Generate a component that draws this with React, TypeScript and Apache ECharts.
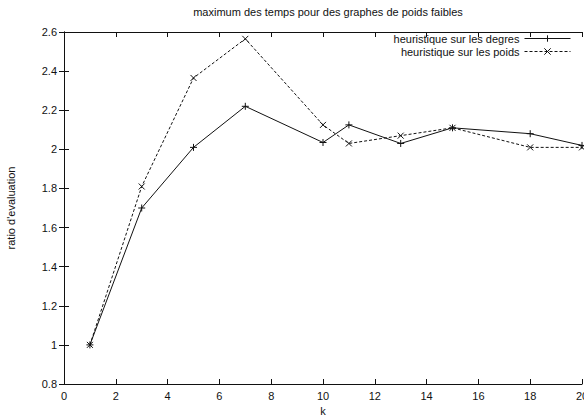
import React, { useEffect, useRef } from "react";
import * as echarts from "echarts";

const kValues = [1, 3, 5, 7, 10, 11, 13, 15, 18, 20];
const degres = [1.0, 1.7, 2.01, 2.22, 2.035, 2.125, 2.03, 2.11, 2.08, 2.02];
const poids = [1.0, 1.81, 2.365, 2.565, 2.125, 2.03, 2.07, 2.11, 2.01, 2.01];
const seriesNames = ["heuristique sur les degres", "heuristique sur les poids"];
const titleText = "maximum des temps pour des graphes de poids faibles";
const xName = "k";
const yName = "ratio d'evaluation";

const FONT = "'Liberation Sans', Arial, sans-serif";
const PLUS = "path://M0,5L10,5M5,0L5,10";
const CROSS = "path://M0,0L10,10M10,0L0,10";

export default function App() {
  const ref = useRef<HTMLDivElement>(null);
  useEffect(() => {
    if (!ref.current) return;
    const chart = echarts.init(ref.current, undefined, { renderer: "svg" });
    const axisLine = { show: true, lineStyle: { color: "#111", width: 1 } };
    const tick = { show: true, inside: true, length: 5, lineStyle: { color: "#111", width: 1 } };
    chart.setOption({
      animation: false,
      backgroundColor: "#fff",
      title: {
        text: titleText,
        left: 323,
        textAlign: "center",
        top: 1,
        textStyle: { fontFamily: FONT, fontSize: 11, fontWeight: "normal", color: "#111" },
      },
      legend: {
        orient: "vertical",
        right: 8,
        top: 28,
        align: "right",
        itemWidth: 46,
        itemHeight: 8,
        itemGap: 2,
        lineStyle: { width: 1 },
        itemStyle: { borderWidth: 1 },
        textStyle: { fontFamily: FONT, fontSize: 11, color: "#111", padding: [0, 0, 0, 0] },
        data: seriesNames,
      },
      grid: { left: 64, right: 2, top: 32, bottom: 33, containLabel: false, outerBoundsMode: "none" },
      xAxis: [
        {
          type: "value",
          min: 0,
          max: 20,
          interval: 2,
          name: xName,
          nameLocation: "middle",
          nameGap: 21,
          nameTextStyle: { fontFamily: FONT, fontSize: 11, color: "#111" },
          axisLine,
          axisTick: tick,
          axisLabel: { fontFamily: FONT, fontSize: 11, color: "#111", margin: 6 },
          splitLine: { show: false },
        },
        {
          type: "value",
          position: "top",
          min: 0,
          max: 20,
          interval: 2,
          axisLine,
          axisTick: tick,
          axisLabel: { show: false },
          splitLine: { show: false },
        },
      ],
      yAxis: [
        {
          type: "value",
          min: 0.8,
          max: 2.6,
          interval: 0.2,
          name: yName,
          nameLocation: "middle",
          nameRotate: 90,
          nameGap: 48,
          nameTextStyle: { fontFamily: FONT, fontSize: 11, color: "#111" },
          axisLine,
          axisTick: tick,
          axisLabel: {
            fontFamily: FONT,
            fontSize: 11,
            color: "#111",
            margin: 7,
            formatter: (v: number) => String(Math.round(v * 10) / 10),
          },
          splitLine: { show: false },
        },
        {
          type: "value",
          position: "right",
          min: 0.8,
          max: 2.6,
          interval: 0.2,
          axisLine,
          axisTick: tick,
          axisLabel: { show: false },
          splitLine: { show: false },
        },
      ],
      series: [
        {
          name: seriesNames[0],
          type: "line",
          data: kValues.map((k, i) => [k, degres[i]]),
          symbol: PLUS,
          symbolSize: 7,
          showAllSymbol: true,
          lineStyle: { color: "#111", width: 1, type: "solid" },
          itemStyle: { color: "#111", borderColor: "#111", borderWidth: 1 },
        },
        {
          name: seriesNames[1],
          type: "line",
          data: kValues.map((k, i) => [k, poids[i]]),
          symbol: CROSS,
          symbolSize: 6,
          showAllSymbol: true,
          lineStyle: { color: "#111", width: 1, type: [3, 2] },
          itemStyle: { color: "#111", borderColor: "#111", borderWidth: 1 },
        },
      ],
    });
    return () => chart.dispose();
  }, []);
  return <div ref={ref} style={{ width: 584, height: 417, position: "absolute", left: 0, top: 0 }} />;
}
